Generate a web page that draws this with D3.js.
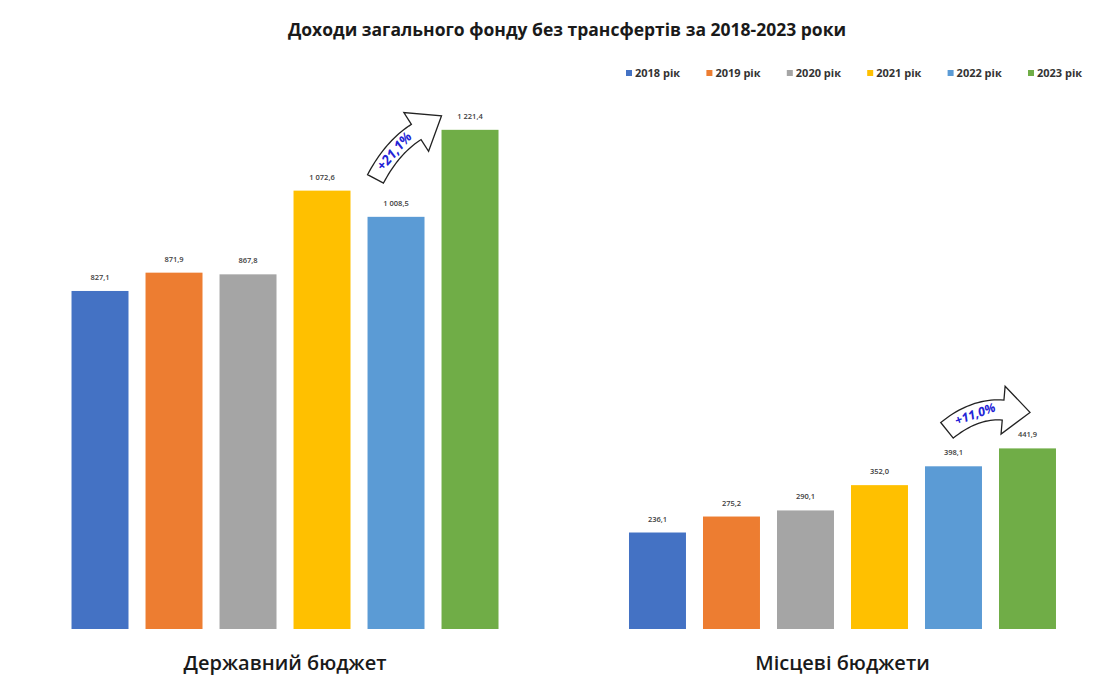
<!DOCTYPE html>
<html>
<head>
<meta charset="utf-8">
<script src="https://cdn.jsdelivr.net/npm/d3@7"></script>
<style>
  body { margin: 0; background: #fff; }
  svg { display: block; }
</style>
</head>
<body>
<svg id="chart" width="1109" height="677"></svg>
<script>
// Budget groups and years
const groups = ["Державний бюджет", "Місцеві бюджети"];
const years = ["2018 рік", "2019 рік", "2020 рік", "2021 рік", "2022 рік", "2023 рік"];
const colors = ["#4472C4", "#ED7D31", "#A5A5A5", "#FFC000", "#5B9BD5", "#70AD47"];

// General fund revenues without transfers, bn UAH
const stateBudget = [827.1, 871.9, 867.8, 1072.6, 1008.5, 1221.4];
const localBudgets = [236.1, 275.2, 290.1, 352.0, 398.1, 441.9];
const growthLabels = ["+21,1%", "+11,0%"];

const title = "Доходи загального фонду без трансфертів за 2018-2023 роки";

const series = [stateBudget, localBudgets];
const fmt = v => {
  const s = v.toFixed(1).replace(".", ",");
  const [i, d] = s.split(",");
  return i.replace(/\B(?=(\d{3})+(?!\d))/g, " ") + "," + d;
};

const svg = d3.select("#chart");
const FONT = "'Open Sans', 'Noto Sans', sans-serif";

const x0 = d3.scaleBand().domain(groups).range([54.5, 1073]).paddingInner(0.173);
const x1 = d3.scaleBand().domain(years).range([0, x0.bandwidth()]).padding(0.23);
const y = d3.scaleLinear().domain([0, 1300]).range([629, 97.7]);

// Title
svg.append("text")
  .attr("x", 567).attr("y", 36)
  .attr("text-anchor", "middle")
  .attr("font-family", FONT).attr("font-weight", 700).attr("font-size", 17.5)
  .attr("fill", "#1a1a1a")
  .text(title);

// Legend
const legend = svg.append("g").attr("font-family", FONT);
years.forEach((yr, i) => {
  const lx = 626 + i * 80.4;
  legend.append("rect").attr("x", lx).attr("y", 70).attr("width", 6).attr("height", 6).attr("fill", colors[i]);
  legend.append("text").attr("x", lx + 9).attr("y", 77)
    .attr("font-size", 11).attr("font-weight", 700).attr("fill", "#333")
    .text(yr);
});

// Bars
groups.forEach((g, gi) => {
  const gEl = svg.append("g").attr("transform", `translate(${x0(g)},0)`);
  gEl.selectAll("rect")
    .data(series[gi])
    .join("rect")
    .attr("x", (d, i) => x1(years[i]))
    .attr("y", d => y(d))
    .attr("width", x1.bandwidth())
    .attr("height", d => y(0) - y(d))
    .attr("fill", (d, i) => colors[i]);
  gEl.selectAll("text.val")
    .data(series[gi])
    .join("text")
    .attr("class", "val")
    .attr("x", (d, i) => x1(years[i]) + x1.bandwidth() / 2)
    .attr("y", d => y(d) - 11)
    .attr("text-anchor", "middle")
    .attr("font-family", FONT).attr("font-size", 7.5).attr("font-weight", 600)
    .attr("fill", "#404040")
    .text(d => fmt(d));
  // Group label
  svg.append("text")
    .attr("x", x0(g) + x0.bandwidth() / 2).attr("y", 670)
    .attr("text-anchor", "middle")
    .attr("font-family", FONT).attr("font-size", 20).attr("font-weight", 600)
    .attr("fill", "#1a1a1a")
    .text(g);
});

// Curved growth arrow from tail (tx,ty) to tip (hx,hy)
function growthArrow(tx, ty, hx, hy, bend, halfW, headLen, headHalf, label, fontSize) {
  const dx = hx - tx, dy = hy - ty;
  const L = Math.hypot(dx, dy);
  const mx = (tx + hx) / 2, my = (ty + hy) / 2;
  const nx = -dy / L, ny = dx / L;
  const cx = mx + nx * bend, cy = my + ny * bend;
  // tangent at the end of the curve
  let ex = hx - cx, ey = hy - cy;
  const el = Math.hypot(ex, ey); ex /= el; ey /= el;
  const bx = hx - ex * headLen, by = hy - ey * headLen;
  // control for the shaft from tail to head base
  const ccx = cx - ex * headLen * 0.4, ccy = cy - ey * headLen * 0.4;
  const pts = d3.range(0, 21).map(k => {
    const t = k / 20;
    const px = (1 - t) * (1 - t) * tx + 2 * (1 - t) * t * ccx + t * t * bx;
    const py = (1 - t) * (1 - t) * ty + 2 * (1 - t) * t * ccy + t * t * by;
    let gx = 2 * (1 - t) * (ccx - tx) + 2 * t * (bx - ccx);
    let gy = 2 * (1 - t) * (ccy - ty) + 2 * t * (by - ccy);
    const gl = Math.hypot(gx, gy); gx /= gl; gy /= gl;
    return { px, py, nx: -gy, ny: gx, t };
  });
  const left = pts.map(p => [p.px + p.nx * halfW, p.py + p.ny * halfW]);
  const right = pts.map(p => [p.px - p.nx * halfW, p.py - p.ny * halfW]).reverse();
  const last = pts[pts.length - 1];
  const wingL = [last.px + last.nx * headHalf, last.py + last.ny * headHalf];
  const wingR = [last.px - last.nx * headHalf, last.py - last.ny * headHalf];
  const poly = [...left, wingL, [hx, hy], wingR, ...right];
  svg.append("path")
    .attr("d", d3.line()(poly) + "Z")
    .attr("fill", "#fff")
    .attr("stroke", "#222")
    .attr("stroke-width", 1.3)
    .attr("stroke-linejoin", "miter");
  const mid = pts[10];
  const a = Math.atan2(-mid.nx, mid.ny) * 180 / Math.PI;
  svg.append("text")
    .attr("transform", `translate(${mid.px},${mid.py}) rotate(${a})`)
    .attr("text-anchor", "middle").attr("dy", "0.35em")
    .attr("font-family", FONT).attr("font-size", fontSize)
    .attr("font-weight", 700).attr("font-style", "italic")
    .attr("fill", "#2323d6")
    .text(label);
}

// State budget: 2022 -> 2023
{
  const g = x0(groups[0]);
  const b22 = g + x1(years[4]), b23 = g + x1(years[5]);
  growthArrow(b22 + 8, y(stateBudget[4]) - 38, b23, y(stateBudget[5]) - 14, -9, 9, 30, 23, growthLabels[0], 13.5);
}
// Local budgets: 2022 -> 2023
{
  const g = x0(groups[1]);
  const b22 = g + x1(years[4]), b23 = g + x1(years[5]);
  growthArrow(b22 + 22, y(localBudgets[4]) - 36, b23 + 31, y(localBudgets[5]) - 36, -13, 10, 27, 24, growthLabels[1], 12.5);
}
</script>
</body>
</html>
